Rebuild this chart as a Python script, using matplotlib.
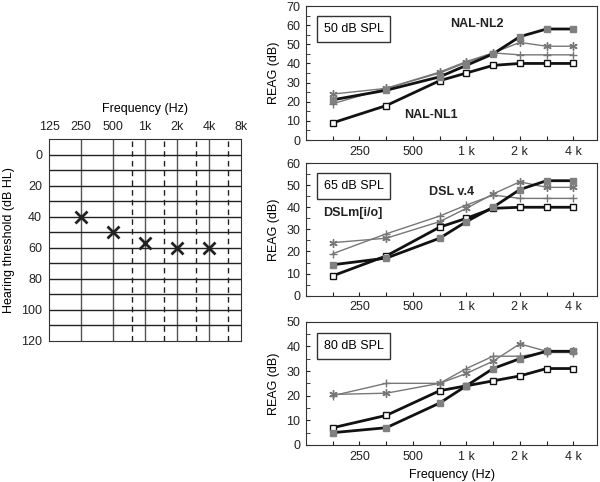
import matplotlib
matplotlib.use('agg')
import matplotlib.pyplot as plt
import numpy as np

plt.rcParams['font.family'] = ['Liberation Sans', 'DejaVu Sans']
plt.rcParams['font.size'] = 9

# audiogram
aud_freqs = [250, 500, 1000, 2000, 4000]
aud_thresholds = [40, 50, 57, 60, 60]
aud_ticks = [125, 250, 500, 1000, 2000, 4000, 8000]
aud_ticklabels = ['125', '250', '500', '1k', '2k', '4k', '8k']
aud_solid = [250, 500, 1000, 2000, 4000]
aud_dashed = [750, 1500, 3000, 6000]

# REAG panels
freqs = [177, 354, 707, 1000, 1414, 2000, 2828, 4000]
xticks = [177, 250, 354, 500, 707, 1000, 1414, 2000, 2828, 4000]
xticklabels = ['', '250', '', '500', '', '1 k', '', '2 k', '', '4 k']

levels = ['50 dB SPL', '65 dB SPL', '80 dB SPL']
ymax = [70, 60, 50]

nal_nl1 = [
    [9, 18, 31, 35, 39, 40, 40, 40],
    [9, 18, 31, 35, 39.5, 40, 40, 40],
    [7, 12, 22, 24, 26, 28, 31, 31],
]
nal_nl2 = [
    [21, 26, 33, 39, 45, 54, 58, 58],
    [14, 17, 26, 33.5, 40, 48, 52, 52],
    [5, 7, 17, 24, 31, 35, 38, 38],
]
dsl_star = [
    [24, 27, 35.5, 41, 45.5, 51, 49, 49],
    [24, 26, 33.5, 39.5, 46, 51.5, 49, 49],
    [20.5, 21, 25, 29, 34, 41, 38, 38],
]
dsl_plus = [
    [19, 27, 35, 40.5, 45.5, 44.5, 44.5, 44.5],
    [19, 28, 36, 41, 45.5, 44, 44, 44],
    [20, 25, 25, 31, 36, 36, 37.5, 37.5],
]

# (text, x freq, y value) per panel
annotations = [
    [('NAL-NL2', 1140, 60.5), ('NAL-NL1', 630, 13)],
    [('DSL v.4', 830, 47), ('DSLm[i/o]', 230, 37.5)],
    [],
]


def main():
    fig = plt.figure(figsize=(6.0, 4.82), dpi=100)

    # audiogram on the left
    ax = fig.add_axes([0.0817, 0.2932, 0.32, 0.4174])
    ax.set_xscale('log', base=2)
    ax.set_xlim(125, 8000)
    ax.set_ylim(120, -10)
    for f in aud_solid:
        ax.axvline(f, color='#555555', lw=1.0, zorder=1)
    for f in aud_dashed:
        ax.axvline(f, color='#222222', lw=1.0, ls=(0, (4, 3)), zorder=1)
    for h in range(0, 120, 10):
        ax.axhline(h, color='#222222', lw=1.0, zorder=1)
    ax.plot(aud_freqs, aud_thresholds, ls='none', marker='x', ms=8,
            mew=2.0, color='#222222', zorder=3)
    ax.xaxis.tick_top()
    ax.xaxis.set_label_position('top')
    ax.set_xticks(aud_ticks)
    ax.set_xticklabels(aud_ticklabels)
    ax.xaxis.set_minor_locator(matplotlib.ticker.NullLocator())
    ax.set_yticks(range(0, 121, 20))
    ax.tick_params(length=0, colors='#222222', pad=5)
    ax.set_xlabel('Frequency (Hz)', labelpad=6)
    ax.set_ylabel('Hearing threshold (dB HL)')
    ax.yaxis.set_label_coords(-0.175, 0.5)
    for s in ax.spines.values():
        s.set_color('#333333')

    # REAG panels on the right
    rects = [
        [0.51, 0.7095, 0.4855, 0.278],
        [0.51, 0.3865, 0.4855, 0.2753],
        [0.51, 0.0768, 0.4855, 0.2558],
    ]
    for i, rect in enumerate(rects):
        ax = fig.add_axes(rect)
        ax.set_xscale('log', base=2)
        ax.set_xlim(125, 5460)
        ax.set_ylim(0, ymax[i])
        ax.plot(freqs, dsl_plus[i], color='#777777', lw=1.0, marker='+',
                ms=6, mew=1.0, zorder=2)
        ax.plot(freqs, dsl_star[i], color='#777777', lw=1.0,
                marker=(6, 2, 0), ms=6, mew=1.0, zorder=2)
        ax.plot(freqs, nal_nl1[i], color='#111111', lw=2.0, marker='s',
                ms=5, mfc='white', mec='#111111', mew=1.0, zorder=3)
        ax.plot(freqs, nal_nl2[i], color='#111111', lw=2.0, marker='s',
                ms=5, mfc='#808080', mec='#808080', zorder=4)
        ax.set_xticks(xticks)
        ax.set_xticklabels(xticklabels)
        ax.xaxis.set_minor_locator(matplotlib.ticker.NullLocator())
        ax.set_yticks(range(0, ymax[i] + 1, 10))
        ax.set_yticks(range(5, ymax[i], 10), minor=True)
        ax.tick_params(which='both', direction='in', length=3,
                       colors='#222222', pad=4)
        ax.set_ylabel('REAG (dB)', labelpad=5)
        for s in ax.spines.values():
            s.set_color('#333333')
        ax.text(0.163, 0.826 if i < 2 else 0.8, levels[i],
                transform=ax.transAxes, ha='center', va='center',
                bbox=dict(boxstyle='square,pad=0.55', fc='white',
                          ec='#333333', lw=1.0))
        for label, fx, fy in annotations[i]:
            ax.text(fx, fy, label, ha='center', va='center',
                    fontweight='bold', color='#222222')
        if i == 2:
            ax.set_xlabel('Frequency (Hz)', labelpad=5)

    fig.savefig('out.png', dpi=100)


if __name__ == '__main__':
    main()
